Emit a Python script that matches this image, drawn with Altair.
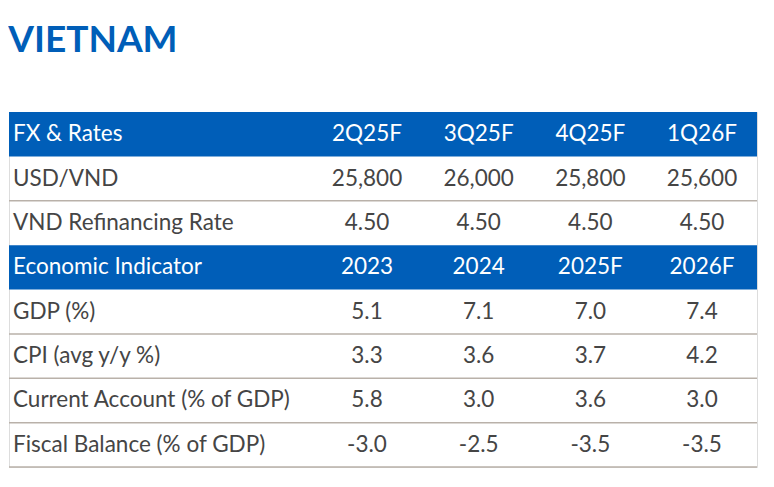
import altair as alt
import pandas as pd

title_text = "VIETNAM"

fx_header = ["FX & Rates", "2Q25F", "3Q25F", "4Q25F", "1Q26F"]
fx_rows = ["USD/VND", "VND Refinancing Rate"]
fx_values = [
    ["25,800", "26,000", "25,800", "25,600"],
    ["4.50", "4.50", "4.50", "4.50"],
]

eco_header = ["Economic Indicator", "2023", "2024", "2025F", "2026F"]
eco_rows = ["GDP (%)", "CPI (avg y/y %)", "Current Account (% of GDP)", "Fiscal Balance (% of GDP)"]
eco_values = [
    ["5.1", "7.1", "7.0", "7.4"],
    ["3.3", "3.6", "3.7", "4.2"],
    ["5.8", "3.0", "3.6", "3.0"],
    ["-3.0", "-2.5", "-3.5", "-3.5"],
]

BLUE = "#005EB8"
TEXT = "#454545"
LINE = "#b9b1a9"
FONT = "Lato"

records = []
row_order = []
def add_header(h, key):
    row_order.append(key)
    records.append(dict(row=key, col=-1, text=h[0], kind="header"))
    for c, t in enumerate(h[1:]):
        records.append(dict(row=key, col=c, text=t, kind="header"))

def add_rows(names, vals, rule_flags):
    for n, v, r in zip(names, vals, rule_flags):
        row_order.append(n)
        records.append(dict(row=n, col=-1, text=n, kind="body", rule=r))
        for c, t in enumerate(v):
            records.append(dict(row=n, col=c, text=t, kind="body", rule=r))

add_header(fx_header, "h1")
add_rows(fx_rows, fx_values, [True, False])
add_header(eco_header, "h2")
add_rows(eco_rows, eco_values, [True, True, True, True])

df = pd.DataFrame(records)
df["rule"] = df["rule"].fillna(False).astype(bool)

W, H = 748, 355
yscale = alt.Scale(domain=row_order, paddingInner=0, paddingOuter=0)
xscale = alt.Scale(domain=[0, 3], range=[358, 693], zero=False, nice=False)

base = alt.Chart(df)

rects = base.transform_filter("datum.kind == 'header' && datum.col == -1").mark_rect(
    color=BLUE
).encode(
    y=alt.Y("row:N", scale=yscale, axis=None),
    x=alt.value(0),
    x2=alt.value(W),
)

rules = base.transform_filter("datum.rule && datum.col == -1").mark_rule(
    color=LINE, strokeWidth=1.5
).encode(
    y=alt.Y("row:N", scale=yscale, axis=None, bandPosition=1),
    x=alt.value(0),
    x2=alt.value(W),
)

labels = base.transform_filter("datum.col == -1").mark_text(
    align="left", baseline="middle", font=FONT, fontSize=22.5, fontWeight="normal"
).encode(
    y=alt.Y("row:N", scale=yscale, axis=None, bandPosition=0.5),
    x=alt.value(4),
    text="text:N",
    color=alt.condition("datum.kind == 'header'", alt.value("white"), alt.value(TEXT)),
)

values = base.transform_filter("datum.col >= 0").mark_text(
    align="center", baseline="middle", font=FONT, fontSize=22.5, fontWeight="normal"
).encode(
    y=alt.Y("row:N", scale=yscale, axis=None, bandPosition=0.5),
    x=alt.X("col:Q", scale=xscale, axis=None),
    text="text:N",
    color=alt.condition("datum.kind == 'header'", alt.value("white"), alt.value(TEXT)),
)

chart = alt.layer(rects, rules, labels, values).properties(
    width=W,
    height=H,
    padding={"left": 0, "top": 14, "right": 0, "bottom": 0},
    title=alt.TitleParams(
        title_text, anchor="start", font=FONT, fontSize=37, fontWeight="bold",
        color=BLUE, offset=52,
    ),
).configure_view(stroke=None).configure(background="white")

chart.save("out.html", embed_options={"renderer": "svg", "actions": False})
